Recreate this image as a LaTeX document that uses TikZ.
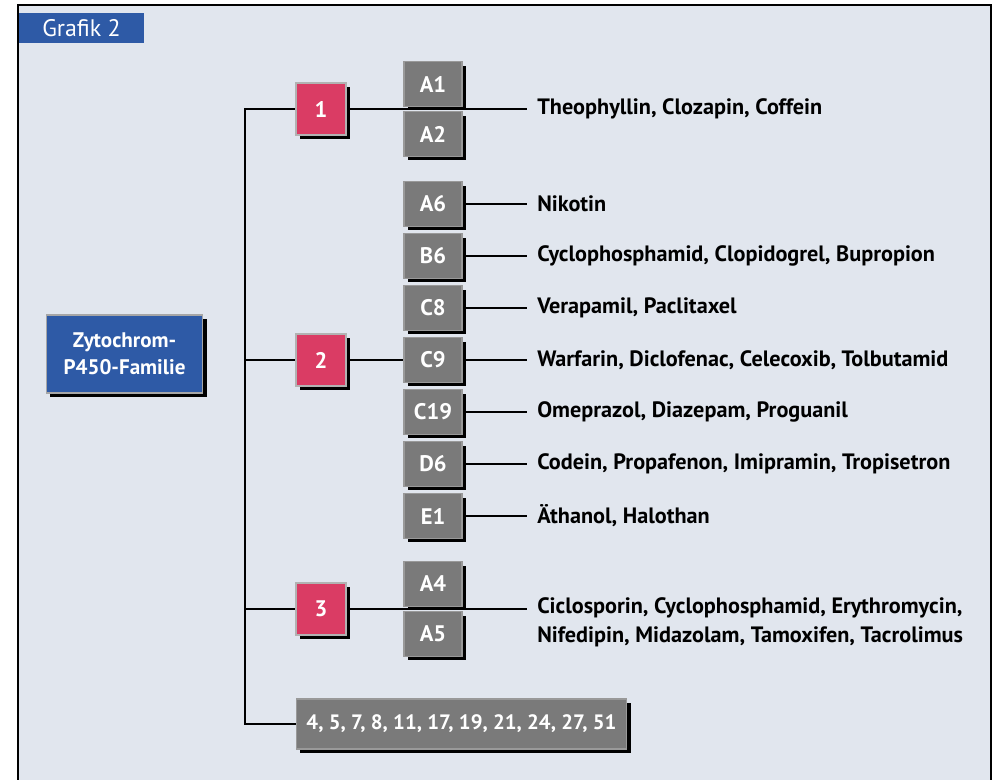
\documentclass[tikz,border=0pt]{standalone}
\usepackage{fontspec}
\setmainfont{PT Sans}
\usetikzlibrary{positioning,shadows,backgrounds}
\definecolor{grafikblau}{RGB}{46,90,166}
\definecolor{grafikrot}{RGB}{218,60,100}
\definecolor{grafikgrau}{RGB}{122,122,122}
\definecolor{grafikgrund}{RGB}{225,230,238}
\tikzset{
  schatten/.style={drop shadow={shadow xshift=0.1cm,shadow yshift=-0.1cm,fill=black,opacity=1}},
  kasten/.style={schatten,inner sep=0pt,text=white,font=\bfseries\fontsize{16}{17}\selectfont},
  graukasten/.style={kasten,fill=grafikgrau,draw=gray!80,line width=0.8pt,minimum width=1.45cm,minimum height=1.12cm},
  rotkasten/.style={kasten,fill=grafikrot,draw=gray!60,line width=0.8pt,minimum width=1.25cm,minimum height=1.3cm},
  blaukasten/.style={kasten,fill=grafikblau,draw=gray!70,line width=0.8pt,minimum width=3.9cm,minimum height=1.95cm,align=center,font=\bfseries\fontsize{15}{19}\selectfont},
  stoffe/.style={anchor=west,inner xsep=0.25cm,inner ysep=0pt,font=\bfseries\fontsize{15.8}{20.5}\selectfont,align=left},
  linie/.style={line width=1.6pt}
}
\begin{document}
\begin{tikzpicture}[x=0.025cm,y=-0.025cm]
\useasboundingbox (0,0) rectangle (992,780);
% Titel
\node[fill=grafikblau,text=white,minimum width=3.1cm,minimum height=0.75cm,font=\fontsize{17}{18}\selectfont] (titel) at (81.5,28) {Grafik 2};
% Familie
\node[blaukasten] (familie) at (124.5,354) {Zytochrom-\\P450-Familie};
\node[rotkasten] (eins) at (321,109) {1};
\node[rotkasten] (zwei) at (321,360) {2};
\node[rotkasten] (drei) at (321,609) {3};
\node[graukasten,minimum width=8.25cm,minimum height=1.25cm,font=\bfseries\fontsize{14.8}{16}\selectfont] (rest) at (461.5,724) {4, 5, 7, 8, 11, 17, 19, 21, 24, 27, 51};
% Unterfamilien
\node[graukasten] (A1) at (433,84) {A1};
\node[graukasten] (A2) at (433,134) {A2};
\node[graukasten] (A6) at (433,204) {A6};
\node[graukasten] (B6) at (433,256) {B6};
\node[graukasten] (C8) at (433,308) {C8};
\node[graukasten] (C9) at (433,360) {C9};
\node[graukasten] (C19) at (433,412) {C19};
\node[graukasten] (D6) at (433,464) {D6};
\node[graukasten] (E1) at (433,516) {E1};
\node[graukasten] (A4) at (433,584) {A4};
\node[graukasten] (A5) at (433,634) {A5};
% Substanzen
\node[stoffe] (tA1) at (527,109) {Theophyllin, Clozapin, Coffein};
\node[stoffe] (tA6) at (527,204) {Nikotin};
\node[stoffe] (tB6) at (527,256) {Cyclophosphamid, Clopidogrel, Bupropion};
\node[stoffe] (tC8) at (527,308) {Verapamil, Paclitaxel};
\node[stoffe] (tC9) at (527,360) {Warfarin, Diclofenac, Celecoxib, Tolbutamid};
\node[stoffe] (tC19) at (527,412) {Omeprazol, Diazepam, Proguanil};
\node[stoffe] (tD6) at (527,464) {Codein, Propafenon, Imipramin, Tropisetron};
\node[stoffe] (tE1) at (527,516) {Äthanol, Halothan};
\node[stoffe] (tA4) at (527,622) {Ciclosporin, Cyclophosphamid, Erythromycin,\\Nifedipin, Midazolam, Tamoxifen, Tacrolimus};
\coordinate (stamm) at (245,109);
\coordinate (ende3) at (527,609);
\begin{scope}[on background layer]
\fill[grafikgrund] (18,5) rectangle (991,780);
\draw[line width=2pt] (18,780) -- (18,5) -- (991,5) -- (991,780);
\draw[linie] (eins.west) -- (stamm) -- (stamm |- rest.west) -- (rest.west);
\draw[linie] (stamm |- zwei.west) -- (zwei.west);
\draw[linie] (stamm |- drei.west) -- (drei.west);
\draw[linie] (eins.east) -- (tA1.west);
\draw[linie] (zwei.east) -- (C9.west);
\draw[linie] (drei.east) -- (ende3);
\foreach \k in {A6,B6,C8,C9,C19,D6,E1}
  \draw[linie] (\k.east) -- (t\k.west);
\end{scope}
\end{tikzpicture}
\end{document}
